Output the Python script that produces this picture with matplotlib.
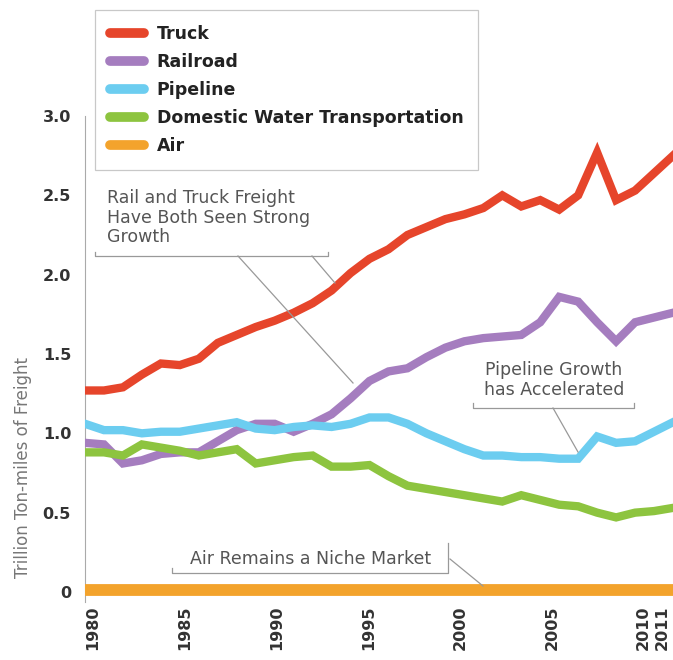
import matplotlib
matplotlib.use('Agg')
import matplotlib.pyplot as plt
from matplotlib.lines import Line2D
from matplotlib.transforms import ScaledTranslation

years = list(range(1980, 2012))

truck = [1.27, 1.27, 1.29, 1.37, 1.44, 1.43, 1.47, 1.57, 1.62, 1.67, 1.71, 1.76, 1.82, 1.90, 2.01, 2.10,
         2.16, 2.25, 2.30, 2.35, 2.38, 2.42, 2.50, 2.43, 2.47, 2.41, 2.50, 2.77, 2.47, 2.53, 2.64, 2.75]
railroad = [0.94, 0.93, 0.81, 0.83, 0.87, 0.88, 0.88, 0.95, 1.02, 1.06, 1.06, 1.01, 1.06, 1.12, 1.22, 1.33,
            1.39, 1.41, 1.48, 1.54, 1.58, 1.60, 1.61, 1.62, 1.70, 1.86, 1.83, 1.70, 1.58, 1.70, 1.73, 1.76]
pipeline = [1.06, 1.02, 1.02, 1.00, 1.01, 1.01, 1.03, 1.05, 1.07, 1.03, 1.02, 1.04, 1.05, 1.04, 1.06, 1.10,
            1.10, 1.06, 1.00, 0.95, 0.90, 0.86, 0.86, 0.85, 0.85, 0.84, 0.84, 0.98, 0.94, 0.95, 1.01, 1.07]
water = [0.88, 0.88, 0.86, 0.93, 0.91, 0.89, 0.86, 0.88, 0.90, 0.81, 0.83, 0.85, 0.86, 0.79, 0.79, 0.80,
         0.73, 0.67, 0.65, 0.63, 0.61, 0.59, 0.57, 0.61, 0.58, 0.55, 0.54, 0.50, 0.47, 0.50, 0.51, 0.53]
air = [0.015, 0.015, 0.015, 0.015, 0.015, 0.015, 0.015, 0.015, 0.015, 0.015, 0.015, 0.015, 0.015, 0.015, 0.015, 0.015,
       0.015, 0.015, 0.015, 0.015, 0.015, 0.015, 0.015, 0.015, 0.015, 0.015, 0.015, 0.015, 0.015, 0.015, 0.015, 0.015]

series_names = ['Truck', 'Railroad', 'Pipeline', 'Domestic Water Transportation', 'Air']
colors = ['#e6452b', '#a57dbf', '#6ccdf0', '#8dc43f', '#f3a32c']

xticks = [1980, 1985, 1990, 1995, 2000, 2005, 2010, 2011]
yticks = [0, 0.5, 1.0, 1.5, 2.0, 2.5, 3.0]
ytick_labels = ['0', '0.5', '1.0', '1.5', '2.0', '2.5', '3.0']

W, H = 673, 660
fig = plt.figure(figsize=(W / 100, H / 100), dpi=100)


def fx(x):
    return x / W


def fy(y):
    return 1 - y / H


ax = fig.add_axes([fx(85), fy(601.5), (673 - 85) / W, (601.5 - 116) / H])

for vals, c in zip([truck, railroad, pipeline, water], colors[:4]):
    ax.plot(years, vals, color=c, lw=6, solid_joinstyle='miter', zorder=3)
ax.plot(years, air, color=colors[4], lw=8.5, solid_capstyle='butt', zorder=3)

ax.set_xlim(1980, 2011)
ax.set_ylim(-0.06, 3.0)

for s in ['top', 'right', 'bottom']:
    ax.spines[s].set_visible(False)
ax.spines['left'].set_color('#aaaaaa')
ax.spines['left'].set_linewidth(0.8)

ax.set_yticks(yticks)
ax.set_yticklabels(ytick_labels, fontsize=11.5, fontweight='bold', color='#333333')
ax.set_xticks(xticks)
ax.set_xticklabels([str(y) for y in xticks], rotation=90, fontsize=11.5,
                   fontweight='bold', color='#333333')
ax.tick_params(axis='y', length=0, pad=10)
ax.tick_params(axis='x', length=0, pad=3)

# labels in the reference sit on a slightly narrower scale than the lines
for lab, yr in zip(ax.get_xticklabels(), xticks):
    want = 93 + (yr - 1980) * 18.35
    have = 85 + (yr - 1980) * (588 / 31)
    lab.set_transform(lab.get_transform() + ScaledTranslation((want - have) / 100, 0, fig.dpi_scale_trans))

fig.text(fx(23), fy(468), 'Trillion Ton-miles of Freight', rotation=90,
         ha='center', va='center', fontsize=12, color='#777777')

# legend
handles = [Line2D([0], [0], color=c, lw=7, solid_capstyle='round') for c in colors]
leg = fig.legend(handles, series_names, loc='upper left',
                 bbox_to_anchor=(fx(95), fy(10)), frameon=True, fancybox=False,
                 prop={'size': 12.5, 'weight': 'bold'}, handlelength=2.0,
                 handletextpad=0.7, labelspacing=0.58, borderpad=0.85, borderaxespad=0)
leg.get_frame().set_edgecolor('#bbbbbb')
leg.get_frame().set_linewidth(0.9)
for t in leg.get_texts():
    t.set_color('#222222')

gray_txt = '#555555'
gray_ln = '#999999'


def fline(xs, ys):
    fig.add_artist(Line2D([fx(x) for x in xs], [fy(y) for y in ys],
                          color=gray_ln, lw=0.9, zorder=5))


# Rail and truck note
fig.text(fx(107), fy(189), 'Rail and Truck Freight\nHave Both Seen Strong\nGrowth',
         ha='left', va='top', fontsize=12.5, color=gray_txt, linespacing=1.12)
fline([95, 95, 328, 328], [252, 256, 256, 252])
fline([238, 353], [256, 383])
fline([312, 335], [256, 283])

# Pipeline note
fig.text(fx(554), fy(380), 'Pipeline Growth\nhas Accelerated',
         ha='center', va='center', fontsize=12.5, color=gray_txt, linespacing=1.12)
fline([473, 473, 634, 634], [403, 408, 408, 403])
fline([553, 578], [408, 452])

# Air note
fig.text(fx(311), fy(559), 'Air Remains a Niche Market',
         ha='center', va='center', fontsize=12.5, color=gray_txt)
fline([172, 172, 448, 448], [568, 573, 573, 543])
fline([450, 483], [559, 586])

fig.savefig('out.png', dpi=100)
